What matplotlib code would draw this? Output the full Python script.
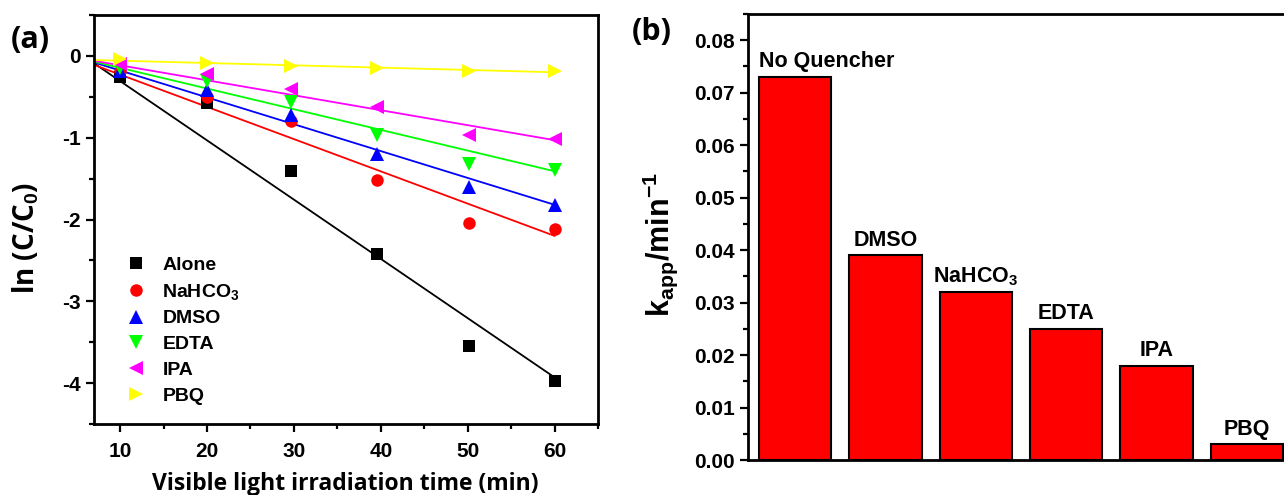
import matplotlib
matplotlib.use("Agg")
import matplotlib.pyplot as plt
from matplotlib.ticker import MultipleLocator, FormatStrFormatter
import numpy as np

# ---------------- data ----------------
time_min = [10, 20, 29.7, 39.6, 50.1, 60]
series_names = ["Alone", "NaHCO$_3$", "DMSO", "EDTA", "IPA", "PBQ"]
alone = [-0.26, -0.58, -1.41, -2.42, -3.55, -3.98]
nahco3 = [-0.19, -0.50, -0.79, -1.52, -2.04, -2.12]
dmso = [-0.18, -0.42, -0.72, -1.20, -1.60, -1.82]
edta = [-0.15, -0.31, -0.56, -0.97, -1.32, -1.39]
ipa = [-0.10, -0.22, -0.40, -0.62, -0.97, -1.02]
pbq = [-0.04, -0.09, -0.12, -0.15, -0.18, -0.19]

# linear fit lines: value at start and end time
fit_time = [7, 60]
fit_alone = [-0.09, -3.93]
fit_nahco3 = [-0.11, -2.20]
fit_dmso = [-0.08, -1.82]
fit_edta = [-0.07, -1.41]
fit_ipa = [-0.06, -1.03]
fit_pbq = [-0.05, -0.20]

bar_labels = ["No Quencher", "DMSO", "NaHCO$_3$", "EDTA", "IPA", "PBQ"]
k_app = [0.073, 0.039, 0.032, 0.025, 0.018, 0.003]

# ---------------- style ----------------
plt.rcParams['font.family'] = ['Liberation Sans', 'DejaVu Sans']
plt.rcParams['font.weight'] = 'bold'
plt.rcParams['axes.unicode_minus'] = False
plt.rcParams['mathtext.fontset'] = 'custom'
plt.rcParams['mathtext.rm'] = 'Liberation Sans:bold'
plt.rcParams['mathtext.it'] = 'Liberation Sans:bold'
plt.rcParams['mathtext.bf'] = 'Liberation Sans:bold'
plt.rcParams['mathtext.default'] = 'bf'

W, H = 1284, 495
fig = plt.figure(figsize=(W / 100, H / 100), dpi=100)

# ---------------- panel (a) ----------------
ax1 = fig.add_axes([94 / W, 1 - 424 / H, (598 - 94) / W, (424 - 15) / H])
series = [alone, nahco3, dmso, edta, ipa, pbq]
fits = [fit_alone, fit_nahco3, fit_dmso, fit_edta, fit_ipa, fit_pbq]
colors = ["black", "red", "blue", "#00ff00", "#ff00ff", "#ffff00"]
markers = ["s", "o", "^", "v", "<", ">"]
msizes = [8, 9, 10.5, 10.5, 10.5, 10.5]

handles = []
for name, ys, fy, c, m, ms in zip(series_names, series, fits, colors, markers, msizes):
    ax1.plot(fit_time, fy, color=c, lw=1.3, zorder=2)
    h, = ax1.plot(time_min, ys, linestyle='none', marker=m, color=c,
                  markersize=ms, markeredgewidth=0, zorder=3, label=name)
    handles.append(h)

ax1.set_xlim(7, 65)
ax1.set_ylim(-4.5, 0.5)
ax1.xaxis.set_minor_locator(MultipleLocator(5))
ax1.yaxis.set_major_locator(MultipleLocator(1))
ax1.yaxis.set_minor_locator(MultipleLocator(0.5))
ax1.set_xticks([10, 20, 30, 40, 50, 60])
ax1.tick_params(which='major', direction='out', length=6, width=1.6, labelsize=15)
ax1.tick_params(which='minor', direction='out', length=3.5, width=1.6)
ax1.tick_params(axis='x', which='major', pad=7)
ax1.tick_params(top=False, right=False, which='both')
for lab in ax1.get_xticklabels() + ax1.get_yticklabels():
    lab.set_fontweight('bold')
for sp in ax1.spines.values():
    sp.set_linewidth(2)

ax1.set_xlabel("Visible light irradiation time (min)", fontsize=16.5,
               fontweight='bold', family=['Open Sans', 'DejaVu Sans'])
ax1.xaxis.set_label_coords((345 - 94) / 504, -(472 - 424) / 409)
ax1.set_ylabel("ln (C/C$_0$)", fontsize=20, fontweight='bold',
               family=['Open Sans', 'DejaVu Sans'])
ax1.yaxis.set_label_coords((42 - 94) / 504, (424 - 238) / 409)

leg = ax1.legend(handles=handles, loc='upper left', bbox_to_anchor=(0.045, 0.43),
                 frameon=False, fontsize=14, labelspacing=0.42, handletextpad=0.75,
                 handlelength=1.2, borderaxespad=0)
for t in leg.get_texts():
    t.set_fontweight('bold')

fig.text(11 / W, 1 - 40 / H, "(a)", fontsize=22, fontweight='bold',
         family=['Open Sans', 'DejaVu Sans'], va='center', ha='left')

# ---------------- panel (b) ----------------
ax2 = fig.add_axes([748 / W, 1 - 460 / H, (W - 748) / W, (460 - 14) / H])
pos = np.arange(len(k_app))
ax2.bar(pos, k_app, width=0.8, color='red', edgecolor='black', linewidth=1.5, zorder=2)
ax2.set_xlim(-0.52, 5.41)
ax2.set_ylim(0, 0.085)
ax2.yaxis.set_major_locator(MultipleLocator(0.01))
ax2.yaxis.set_minor_locator(MultipleLocator(0.005))
ax2.yaxis.set_major_formatter(FormatStrFormatter('%.2f'))
ax2.set_xticks([])
ax2.tick_params(which='major', axis='y', direction='out', length=6, width=1.6, labelsize=15)
ax2.tick_params(which='minor', axis='y', direction='out', length=3.5, width=1.6)
for lab in ax2.get_yticklabels():
    lab.set_fontweight('bold')
for sp in ax2.spines.values():
    sp.set_linewidth(2)
ax2.spines['right'].set_visible(False)

for i, (lab, v) in enumerate(zip(bar_labels, k_app)):
    if i == 0:
        ax2.annotate(lab, (pos[i] - 0.4, v), xytext=(0, 7), textcoords='offset points',
                     ha='left', va='baseline', fontsize=15.5, fontweight='bold')
    else:
        ax2.annotate(lab, (pos[i], v), xytext=(0, 7), textcoords='offset points',
                     ha='center', va='baseline', fontsize=15.5, fontweight='bold')

ax2.set_ylabel("k$_{\\mathregular{app}}$/min$^{\\mathregular{-1}}$", fontsize=22,
               fontweight='bold')
ax2.yaxis.set_label_coords((680 - 748) / 536, (460 - 245) / 446)

fig.text(632 / W, 1 - 32 / H, "(b)", fontsize=22, fontweight='bold',
         family=['Open Sans', 'DejaVu Sans'], va='center', ha='left')

fig.savefig("out.png", dpi=100)
